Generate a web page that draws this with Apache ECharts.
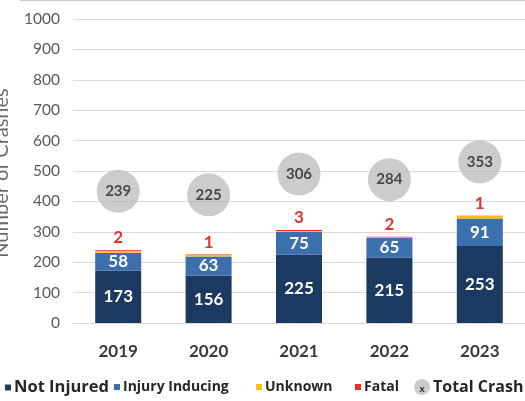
<!DOCTYPE html>
<html>
<head>
<meta charset="utf-8">
<script src="https://cdn.jsdelivr.net/npm/echarts@6/dist/echarts.min.js"></script>
<style>
  html, body { margin: 0; padding: 0; background: #ffffff; }
  #chart { width: 525px; height: 401px; }
</style>
</head>
<body>
<div id="chart"></div>
<script>
// Crash counts by year, split by injury outcome
const years = ['2019', '2020', '2021', '2022', '2023'];
const notInjured = [173, 156, 225, 215, 253];
const injuryInducing = [58, 63, 75, 65, 91];
const unknown = [6, 5, 3, 2, 8];
const fatal = [2, 1, 3, 2, 1];
const totalCrash = [239, 225, 306, 284, 353];
const yTicks = { min: 0, max: 1000, step: 100 };

const FONT = 'Lato, "Open Sans", sans-serif';
const LEGEND_FONT = '"Open Sans", Lato, sans-serif';
const C_NAVY = '#1c3962';
const C_BLUE = '#3c6fad';
const C_GOLD = '#fcbf12';
const C_RED = '#ee2a24';
const C_GREY = '#bfbfbf';

const chart = echarts.init(document.getElementById('chart'), null, { renderer: 'canvas' });

function inBarLabel() {
  return {
    show: true,
    position: 'inside',
    color: '#ffffff',
    fontFamily: FONT,
    fontWeight: 'bold',
    fontSize: 17
  };
}

function legendItem(name, left, fontSize, icon, size) {
  return {
    data: [{ name: name, icon: icon }],
    left: left,
    top: 389 - Math.round(Math.max(size, fontSize + 4) / 2),
    padding: 0,
    itemWidth: size,
    itemHeight: size,
    itemGap: 0,
    selectedMode: false,
    textStyle: {
      fontFamily: LEGEND_FONT,
      fontWeight: 'bold',
      fontSize: fontSize,
      color: '#262626',
      padding: [0, 0, 0, -2]
    }
  };
}

const option = {
  animation: false,
  backgroundColor: '#ffffff',
  grid: { left: 73, top: 19, width: 464, height: 304, containLabel: false },
  legend: [
    legendItem('Not Injured', 5, 16.5, 'rect', 6),
    legendItem('Injury Inducing', 114, 14, 'rect', 6),
    legendItem('Unknown', 256, 14, 'rect', 6),
    legendItem('Fatal', 355, 14, 'rect', 6),
    legendItem('Total Crash', 414, 16, 'circle', 16)
  ],
  xAxis: {
    type: 'category',
    data: years,
    axisLine: { show: true, lineStyle: { color: '#d9d9d9', width: 1 } },
    axisTick: { show: false },
    axisLabel: {
      margin: 20,
      fontFamily: FONT,
      fontWeight: 'bold',
      fontSize: 17,
      color: '#3a3a3a'
    }
  },
  yAxis: [
    {
      type: 'value',
      min: yTicks.min,
      max: yTicks.max,
      interval: yTicks.step,
      axisLine: { show: false },
      axisTick: { show: false },
      splitLine: { lineStyle: { color: '#dadada', width: 1 } },
      axisLabel: {
        margin: 13,
        fontFamily: FONT,
        fontSize: 15.5,
        color: '#5a5a5a',
        formatter: (v) => String(v)
      }
    },
    {
      // hidden scale used to place the total-crash bubbles above the bars
      type: 'value',
      min: -272,
      max: 907,
      show: false,
      splitLine: { show: false }
    }
  ],
  series: [
    {
      name: 'Not Injured',
      type: 'bar',
      stack: 'crash',
      barWidth: 46,
      data: notInjured,
      itemStyle: { color: C_NAVY },
      label: inBarLabel()
    },
    {
      name: 'Injury Inducing',
      type: 'bar',
      stack: 'crash',
      data: injuryInducing,
      itemStyle: { color: C_BLUE },
      label: inBarLabel()
    },
    {
      name: 'Unknown',
      type: 'bar',
      stack: 'crash',
      data: unknown,
      itemStyle: { color: C_GOLD }
    },
    {
      name: 'Fatal',
      type: 'bar',
      stack: 'crash',
      data: fatal,
      itemStyle: { color: C_RED },
      label: {
        show: true,
        position: 'top',
        distance: 4,
        color: '#e4312d',
        fontFamily: FONT,
        fontWeight: 'bold',
        fontSize: 17
      }
    },
    {
      name: 'Total Crash',
      type: 'scatter',
      yAxisIndex: 1,
      data: totalCrash,
      symbol: 'circle',
      symbolSize: 43,
      itemStyle: { color: C_GREY },
      z: 5,
      label: {
        show: true,
        position: 'inside',
        color: '#262626',
        fontFamily: FONT,
        fontWeight: 'bold',
        fontSize: 15
      }
    }
  ],
  graphic: [
    {
      type: 'line',
      shape: { x1: 20, y1: 0.5, x2: 525, y2: 0.5 },
      style: { stroke: '#c8c8c8', lineWidth: 1 }
    },
    {
      // axis title, partly running off the left edge of the canvas
      type: 'text',
      x: 2,
      y: 173,
      rotation: Math.PI / 2,
      style: {
        text: 'Number of Crashes',
        fontFamily: FONT,
        fontSize: 20,
        fill: '#6a6a6a',
        align: 'center',
        verticalAlign: 'middle'
      }
    },
    {
      type: 'text',
      x: 422,
      y: 389,
      style: {
        text: 'x',
        fontFamily: FONT,
        fontWeight: 'bold',
        fontSize: 10,
        fill: '#262626',
        align: 'center',
        verticalAlign: 'middle'
      },
      z: 100
    }
  ]
};

chart.setOption(option);
</script>
</body>
</html>
